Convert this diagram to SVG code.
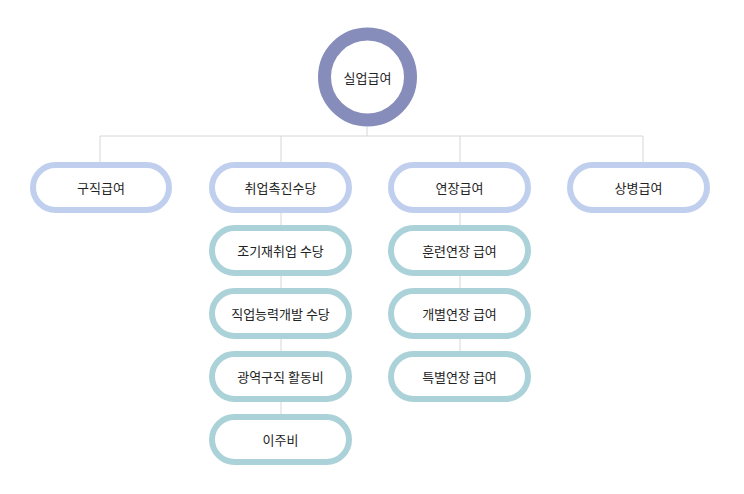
<svg xmlns="http://www.w3.org/2000/svg" width="744" height="494" viewBox="0 0 744 494">
<style>
.l{stroke:#d6d6d6;stroke-width:1;fill:none}
.b{fill:#fff;stroke:#c0cfee;stroke-width:6}
.s{fill:#fff;stroke:#abd2d8;stroke-width:6}
text{font-family:"Noto Sans CJK KR","Noto Sans",sans-serif;font-size:13px;fill:#222;text-anchor:middle;dominant-baseline:central}
</style>
<rect width="744" height="494" fill="#fff"/>
<g id="connectors">
<path class="l" d="M367 127V136M100 136H643M100 136V162M281 136V414M460 136V351M643 136V162"/>
</g>
<g id="root"><circle cx="367.5" cy="77" r="43" fill="#fff" stroke="#878dbb" stroke-width="13"/><text x="367.5" y="77">실업급여</text></g>
<g id="n1"><rect class="b" x="33" y="165" width="136" height="45" rx="22.5"/><text x="101" y="187.5">구직급여</text></g>
<g id="n2"><rect class="b" x="212" y="165" width="137" height="45" rx="22.5"/><text x="280.5" y="187.5">취업촉진수당</text></g>
<g id="n3"><rect class="b" x="391" y="165" width="137" height="45" rx="22.5"/><text x="459.5" y="187.5">연장급여</text></g>
<g id="n4"><rect class="b" x="570" y="165" width="137" height="45" rx="22.5"/><text x="638.5" y="187.5">상병급여</text></g>
<g id="n5"><rect class="s" x="212" y="228" width="137" height="45" rx="22.5"/><text x="280.5" y="250.5">조기재취업 수당</text></g>
<g id="n6"><rect class="s" x="212" y="291" width="137" height="45" rx="22.5"/><text x="280.5" y="313.5">직업능력개발 수당</text></g>
<g id="n7"><rect class="s" x="212" y="354" width="137" height="45" rx="22.5"/><text x="280.5" y="376.5">광역구직 활동비</text></g>
<g id="n8"><rect class="s" x="212" y="417" width="137" height="45" rx="22.5"/><text x="280.5" y="439.5">이주비</text></g>
<g id="n9"><rect class="s" x="391" y="228" width="137" height="45" rx="22.5"/><text x="459.5" y="250.5">훈련연장 급여</text></g>
<g id="n10"><rect class="s" x="391" y="291" width="137" height="45" rx="22.5"/><text x="459.5" y="313.5">개별연장 급여</text></g>
<g id="n11"><rect class="s" x="391" y="354" width="137" height="45" rx="22.5"/><text x="459.5" y="376.5">특별연장 급여</text></g>
</svg>
